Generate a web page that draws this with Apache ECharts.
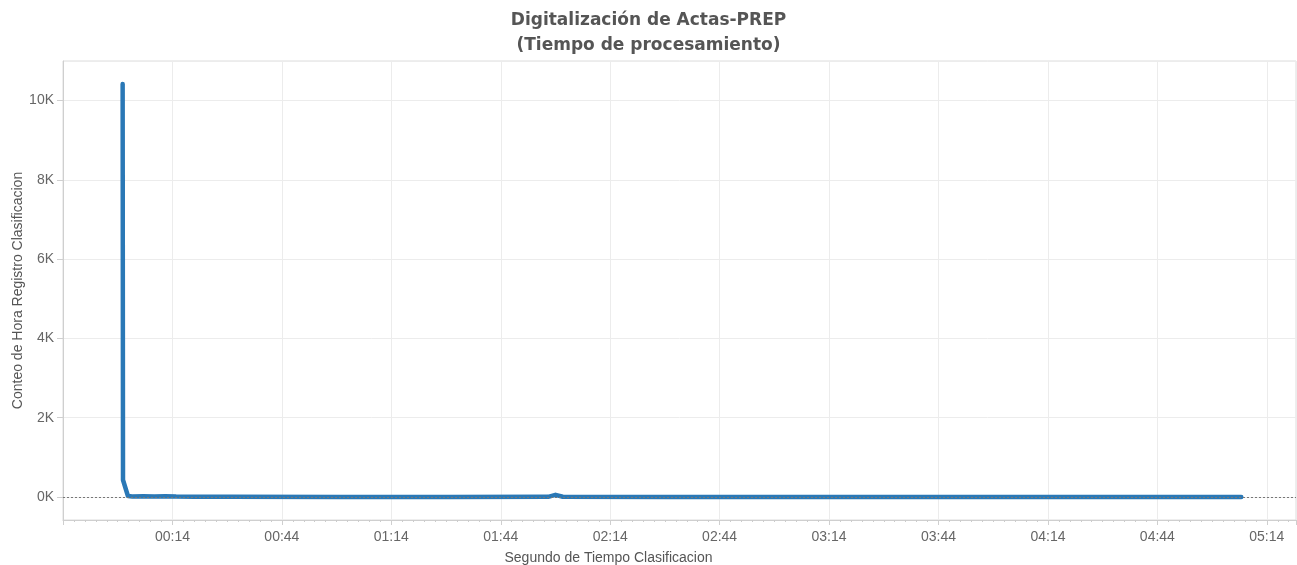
<!DOCTYPE html>
<html>
<head>
<meta charset="utf-8">
<script src="https://cdn.jsdelivr.net/npm/echarts@6/dist/echarts.min.js"></script>
<style>
  html, body { margin: 0; padding: 0; background: #fff; }
  #chart { width: 1297px; height: 565px; }
</style>
</head>
<body>
<div id="chart"></div>
<script>
// segundos de clasificacion y conteo
const segundos = [0.35, 0.45, 1.8, 3, 6, 9, 12, 15, 20, 30, 60, 90, 117, 119, 121, 150, 200, 250, 307]
const conteo = [10420, 430, 25, 15, 20, 12, 18, 10, 8, 5, 3, 3, 5, 55, 6, 2, 2, 1, 1]

// las etiquetas del eje x van 00:14, 00:44 ... 05:14
const primerTick = 14

const fmtTiempo = (v) => {
  const s = Math.round(v + primerTick)
  const mm = String(Math.floor(s / 60)).padStart(2, '0')
  const ss = String(s % 60).padStart(2, '0')
  return mm + ':' + ss
}

const chart = echarts.init(document.getElementById('chart'))

const option = {
  animation: false,
  title: {
    text: 'Digitalización de Actas-PREP\n(Tiempo de procesamiento)',
    left: 'center',
    top: 3,
    textStyle: {
      fontFamily: 'DejaVu Sans',
      fontWeight: 'bold',
      fontSize: 17,
      lineHeight: 25,
      color: '#555'
    }
  },
  grid: {
    left: 63,
    right: 1,
    top: 61,
    bottom: 45,
    outerBoundsMode: 'none',
    show: true,
    borderColor: '#dcdcdc',
    borderWidth: 1
  },
  xAxis: {
    type: 'value',
    min: -30,
    max: 308,
    interval: 30,
    name: 'Segundo de Tiempo Clasificacion',
    nameLocation: 'middle',
    nameGap: 31,
    nameMoveOverlap: false,
    nameTextStyle: {
      fontFamily: 'Liberation Sans',
      fontSize: 14,
      color: '#555',
      padding: [0, 142, 0, 0]
    },
    axisLine: { onZero: false, lineStyle: { color: '#cfcfcf' } },
    axisTick: { length: 5, lineStyle: { color: '#cfcfcf' } },
    minorTick: { show: true, splitNumber: 10, length: 2, lineStyle: { color: '#cccccc' } },
    axisLabel: {
      formatter: fmtTiempo,
      showMinLabel: false,
      showMaxLabel: false,
      margin: 10,
      fontFamily: 'Liberation Sans',
      fontSize: 14,
      color: '#666'
    },
    splitLine: { lineStyle: { color: '#ececec' } }
  },
  yAxis: {
    type: 'value',
    min: -580,
    max: 11000,
    splitNumber: 5,
    name: 'Conteo de Hora Registro Clasificacion',
    nameLocation: 'middle',
    nameGap: 38,
    nameMoveOverlap: false,
    nameTextStyle: {
      fontFamily: 'Liberation Sans',
      fontSize: 14,
      color: '#555'
    },
    axisLine: { show: true, onZero: false, lineStyle: { color: '#cfcfcf' } },
    axisTick: { show: true, length: 6, lineStyle: { color: '#cfcfcf' } },
    axisLabel: {
      formatter: (v) => (v / 1000) + 'K',
      showMinLabel: false,
      showMaxLabel: false,
      margin: 9,
      fontFamily: 'Liberation Sans',
      fontSize: 14,
      color: '#666'
    },
    splitLine: { lineStyle: { color: '#ececec' } }
  },
  series: [
    {
      // linea de cero punteada
      type: 'line',
      data: [],
      z: 1,
      silent: true,
      markLine: {
        symbol: 'none',
        silent: true,
        label: { show: false },
        lineStyle: { type: [2, 2], color: '#777', width: 1 },
        data: [{ yAxis: 0 }]
      }
    },
    {
      type: 'line',
      z: 3,
      showSymbol: false,
      data: segundos.map((s, i) => [s - primerTick, conteo[i]]),
      lineStyle: { color: '#2a78b6', width: 4.5, cap: 'round', join: 'round' }
    }
  ]
}

chart.setOption(option)
</script>
</body>
</html>
